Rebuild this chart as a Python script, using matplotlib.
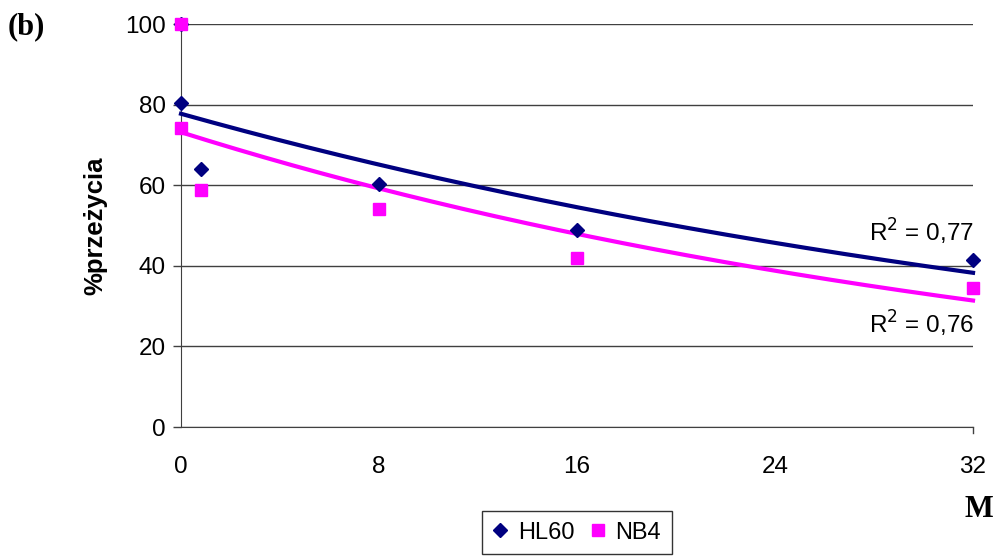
import numpy as np
import matplotlib.pyplot as plt
from matplotlib.lines import Line2D

x = [0, 0, 0.8, 8, 16, 32]
hl60 = [100, 80.4, 64.0, 60.2, 48.9, 41.4]
nb4 = [100, 74.2, 58.8, 54.1, 41.9, 34.5]
xticks = [0, 8, 16, 24, 32]
yticks = [0, 20, 40, 60, 80, 100]

def expfit(xs, ys):
    b, a = np.polyfit(xs, np.log(ys), 1)
    return np.exp(a), b

plt.rcParams['font.family'] = ['Liberation Sans', 'DejaVu Sans']

fig = plt.figure(figsize=(9.99, 5.56), dpi=100)
ax = fig.add_axes([0.1812, 0.232, 0.7928, 0.7248])

xx = np.linspace(0, 32, 200)
for ys, col, mk, ms in ((hl60, '#000080', 'D', 7.5), (nb4, '#ff00ff', 's', 8.5)):
    a, b = expfit(x, ys)
    ax.plot(xx, a * np.exp(b * xx), color=col, lw=3, zorder=3, clip_on=False)
    ax.plot(x, ys, mk, color=col, ms=ms, mec=col, zorder=4, clip_on=False,
            linestyle='none')

ax.set_xlim(0, 32)
ax.set_ylim(0, 100)
ax.set_xticks(xticks)
ax.set_yticks(yticks)
ax.tick_params(labelsize=17.5, direction='out', length=6, width=1, color='#404040', pad=5)
ax.tick_params(axis='x', length=0, pad=21)
ax.grid(axis='y', color='#404040', lw=1)
ax.set_axisbelow(True)
for s in ('top', 'right'):
    ax.spines[s].set_visible(False)
for s in ('left', 'bottom'):
    ax.spines[s].set_color('#404040')
ax.plot([32, 32], [0, -1.5], color='#404040', lw=1, clip_on=False)

ax.set_ylabel('%przeżycia', fontsize=18.5, fontweight='bold', labelpad=13)
ax.text(32.05, 48.4, 'R$^2$ = 0,77', fontsize=17.5, ha='right', va='center')
ax.text(32.05, 25.6, 'R$^2$ = 0,76', fontsize=17.5, ha='right', va='center')

fig.text(0.008, 0.952, '(b)', fontsize=22, fontweight='bold',
         family='Liberation Serif', va='center')
fig.text(0.994, 0.083, 'M', fontsize=22, fontweight='bold',
         family='Liberation Serif', ha='right', va='center')

handles = [Line2D([], [], marker='D', color='#000080', ls='none', ms=7),
           Line2D([], [], marker='s', color='#ff00ff', ls='none', ms=8)]
leg = fig.legend(handles, ['HL60', 'NB4'], loc='upper center', bbox_to_anchor=(0.5776, 0.081),
                 ncol=2, fontsize=17, frameon=True, fancybox=False,
                 handlelength=0.6, handletextpad=0.45, columnspacing=0.7,
                 borderpad=0.45, borderaxespad=0)
leg.get_frame().set_edgecolor('black')
leg.get_frame().set_linewidth(1)

fig.savefig('out.png', dpi=100)
